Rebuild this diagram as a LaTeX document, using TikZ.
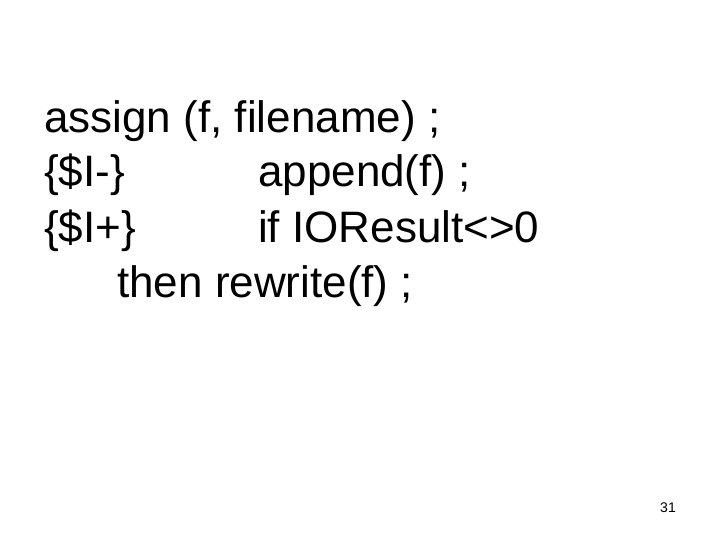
\documentclass[tikz,border=0pt]{standalone}
\usepackage{fontspec}
\setmainfont{Liberation Sans}
\begin{document}
\begin{tikzpicture}[x=1pt,y=-1pt,
  txt/.style={anchor=base west,inner sep=0pt,font=\fontsize{44}{48}\selectfont}]
\useasboundingbox (0,0) rectangle (720,540);
\node[txt] (l1) at (44,133) {assign (f, filename) ;};
\node[txt] (l2a) at (44,187) {\{\$I-\}};
\node[txt] (l2b) at (258,187) {append(f) ;};
\node[txt] (l3a) at (44,242) {\{\$I+\}};
\node[txt] (l3b) at (258,242) {if IOResult<>0};
\node[txt] (l4) at (117,297) {then rewrite(f) ;};
\node[anchor=base east,inner sep=0pt,font=\fontsize{14}{16}\selectfont] (pg) at (676,512) {31};
\end{tikzpicture}
\end{document}
